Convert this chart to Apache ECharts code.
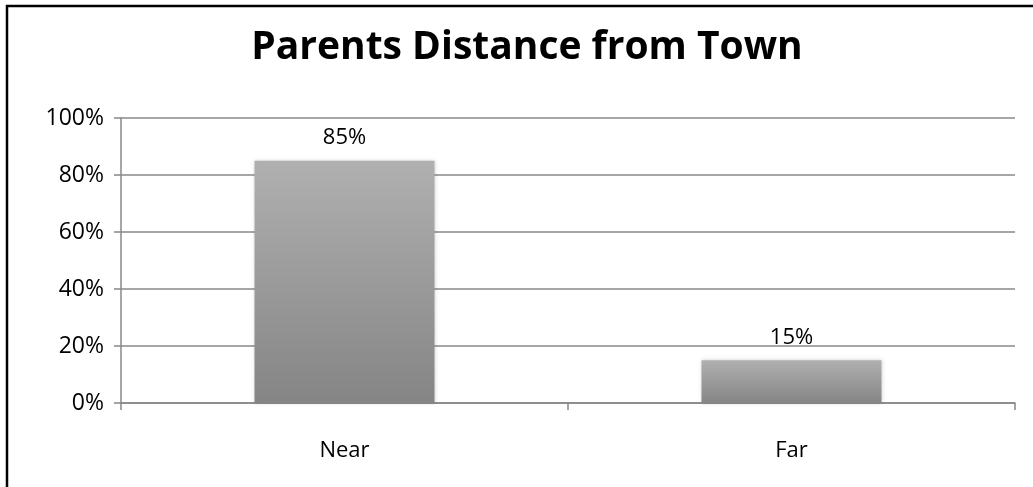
<!DOCTYPE html>
<html>
<head>
<meta charset="utf-8">
<script src="https://cdn.jsdelivr.net/npm/echarts@6/dist/echarts.min.js"></script>
<style>
  html, body { margin: 0; padding: 0; background: #fff; }
  #chart { width: 1033px; height: 487px; }
</style>
</head>
<body>
<div id="chart"></div>
<script>
// Share of parents living near / far from town (percent)
const categories = ['Near', 'Far'];
const shares = [85, 15];
const yTicks = [0, 20, 40, 60, 80, 100];

const chart = echarts.init(document.getElementById('chart'));
const font = '"Open Sans", Lato, sans-serif';
const lineGray = '#888888';

chart.setOption({
  animation: false,
  backgroundColor: '#ffffff',
  title: {
    text: 'Parents Distance from Town',
    left: 522,
    textAlign: 'center',
    top: 23,
    textStyle: { fontFamily: font, fontWeight: 'bold', fontSize: 39, color: '#000' }
  },
  graphic: [{
    type: 'rect',
    shape: { x: 7, y: 6, width: 1100, height: 600 },
    style: { fill: 'none', stroke: '#000', lineWidth: 2.5 },
    z: 100
  }],
  grid: { left: 121, right: 18, top: 118, bottom: 84 },
  xAxis: {
    type: 'category',
    data: categories,
    axisLine: { lineStyle: { color: lineGray, width: 1.5 } },
    axisTick: { show: true, length: 7, lineStyle: { color: lineGray, width: 1.5 } },
    axisLabel: { fontFamily: font, fontSize: 22, color: '#000', margin: 37 }
  },
  yAxis: {
    type: 'value',
    min: yTicks[0],
    max: yTicks[yTicks.length - 1],
    interval: yTicks[1] - yTicks[0],
    axisLine: { show: true, lineStyle: { color: lineGray, width: 1.5 } },
    axisTick: { show: true, length: 7, lineStyle: { color: lineGray, width: 1.5 } },
    splitLine: { lineStyle: { color: lineGray, width: 1.5 } },
    axisLabel: { fontFamily: font, fontSize: 23, color: '#000', margin: 17, formatter: v => v + '%' }
  },
  series: [{
    type: 'bar',
    data: shares,
    barWidth: 180,
    itemStyle: {
      color: new echarts.graphic.LinearGradient(0, 0, 0, 1, [
        { offset: 0, color: '#b0b0b0' },
        { offset: 1, color: '#858585' }
      ]),
      shadowColor: 'rgba(0,0,0,0.18)',
      shadowBlur: 4
    },
    label: {
      show: true,
      position: 'top',
      distance: 12,
      fontFamily: font,
      fontSize: 22,
      color: '#000',
      formatter: p => p.value + '%'
    }
  }]
});
</script>
</body>
</html>
